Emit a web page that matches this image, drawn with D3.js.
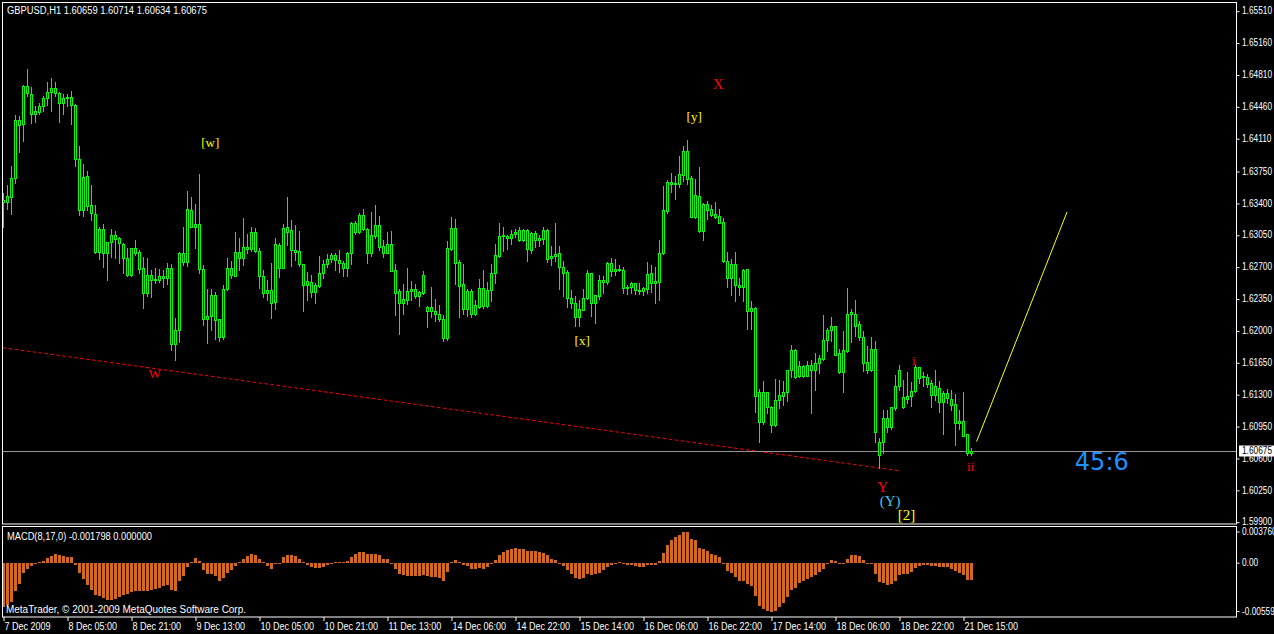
<!DOCTYPE html>
<html><head><meta charset="utf-8">
<script src="https://cdn.jsdelivr.net/npm/d3@7"></script>
<style>html,body{margin:0;padding:0;background:#000;overflow:hidden}svg{display:block}</style>
</head><body>
<svg id="c" width="1274" height="634"></svg>
<script>
// ---------------- DATA ----------------
const opens=[1.6341,1.6341,1.6347,1.6367,1.6431,1.6427,1.6468,1.6460,1.6438,1.6440,
1.6446,1.6455,1.6462,1.6466,1.6461,1.6450,1.6455,1.6456,1.6448,1.6388,
1.6332,1.6370,1.6338,1.6328,1.6286,1.6311,1.6285,1.6297,1.6305,1.6301,
1.6295,1.6280,1.6261,1.6290,1.6286,1.6268,1.6241,1.6261,1.6255,1.6255,
1.6260,1.6258,1.6269,1.6185,1.6201,1.6285,1.6275,1.6332,1.6313,1.6317,
1.6267,1.6213,1.6216,1.6239,1.6212,1.6193,1.6245,1.6269,1.6260,1.6286,
1.6280,1.6292,1.6289,1.6308,1.6287,1.6260,1.6241,1.6244,1.6231,1.6294,
1.6269,1.6308,1.6310,1.6288,1.6287,1.6273,1.6250,1.6253,1.6242,1.6249,
1.6263,1.6273,1.6278,1.6283,1.6277,1.6274,1.6269,1.6285,1.6318,1.6308,
1.6327,1.6311,1.6285,1.6304,1.6316,1.6293,1.6285,1.6295,1.6266,1.6243,
1.6230,1.6233,1.6243,1.6245,1.6238,1.6241,1.6226,1.6221,1.6221,1.6218,
1.6213,1.6192,1.6289,1.6312,1.6275,1.6251,1.6223,1.6243,1.6218,1.6226,
1.6247,1.6227,1.6244,1.6263,1.6282,1.6304,1.6304,1.6301,1.6306,1.6310,
1.6299,1.6310,1.6288,1.6307,1.6299,1.6300,1.6310,1.6280,1.6282,1.6285,
1.6270,1.6264,1.6236,1.6230,1.6215,1.6222,1.6236,1.6263,1.6230,1.6238,
1.6255,1.6253,1.6274,1.6265,1.6267,1.6266,1.6247,1.6248,1.6252,1.6244,
1.6243,1.6245,1.6263,1.6252,1.6253,1.6285,1.6331,1.6363,1.6361,1.6361,
1.6371,1.6397,1.6367,1.6324,1.6348,1.6309,1.6339,1.6333,1.6328,1.6326,
1.6319,1.6276,1.6257,1.6273,1.6250,1.6248,1.6267,1.6221,1.6225,1.6132,
1.6099,1.6132,1.6116,1.6096,1.6124,1.6128,1.6132,1.6157,1.6179,1.6150,
1.6161,1.6150,1.6162,1.6157,1.6164,1.6169,1.6189,1.6201,1.6205,1.6175,
1.6154,1.6177,1.6218,1.6218,1.6207,1.6193,1.6165,1.6157,1.6180,1.6078,
1.6078,1.6104,1.6094,1.6115,1.6139,1.6127,1.6125,1.6128,1.6133,1.6160,
1.6149,1.6149,1.6142,1.6129,1.6137,1.6121,1.6131,1.6125,1.6119,1.6098,
1.6101,1.6086,1.60659];
const highs=[1.6351,1.6360,1.6381,1.6437,1.6435,1.6469,1.6487,1.6467,1.6446,1.6450,
1.6457,1.6473,1.6477,1.6473,1.6462,1.6460,1.6460,1.6463,1.6449,1.6402,
1.6383,1.6375,1.6360,1.6338,1.6313,1.6317,1.6297,1.6311,1.6309,1.6303,
1.6296,1.6291,1.6290,1.6299,1.6288,1.6281,1.6279,1.6266,1.6268,1.6267,
1.6266,1.6274,1.6273,1.6214,1.6286,1.6314,1.6353,1.6346,1.6339,1.6372,
1.6272,1.6246,1.6246,1.6242,1.6213,1.6250,1.6279,1.6276,1.6308,1.6301,
1.6323,1.6306,1.6313,1.6312,1.6291,1.6266,1.6255,1.6274,1.6302,1.6296,
1.6317,1.6346,1.6321,1.6316,1.6309,1.6273,1.6264,1.6261,1.6252,1.6282,
1.6277,1.6284,1.6285,1.6285,1.6288,1.6276,1.6286,1.6319,1.6320,1.6329,
1.6333,1.6312,1.6330,1.6338,1.6326,1.6299,1.6308,1.6309,1.6273,1.6246,
1.6251,1.6269,1.6254,1.6251,1.6243,1.6265,1.6227,1.6248,1.6234,1.6228,
1.6217,1.6298,1.6325,1.6322,1.6277,1.6273,1.6246,1.6246,1.6233,1.6256,
1.6266,1.6253,1.6273,1.6295,1.6318,1.6313,1.6305,1.6310,1.6311,1.6313,
1.6311,1.6311,1.6308,1.6309,1.6305,1.6313,1.6311,1.6293,1.6318,1.6293,
1.6276,1.6266,1.6244,1.6238,1.6233,1.6246,1.6266,1.6263,1.6239,1.6261,
1.6260,1.6275,1.6280,1.6278,1.6272,1.6270,1.6250,1.6253,1.6252,1.6252,
1.6248,1.6275,1.6272,1.6270,1.6299,1.6359,1.6365,1.6373,1.6369,1.6391,
1.6402,1.6409,1.6369,1.6366,1.6379,1.6340,1.6342,1.6338,1.6341,1.6333,
1.6323,1.6286,1.6278,1.6286,1.6257,1.6267,1.6267,1.6232,1.6226,1.6136,
1.6145,1.6132,1.6117,1.6147,1.6146,1.6144,1.6157,1.6184,1.6180,1.6166,
1.6162,1.6166,1.6167,1.6175,1.6173,1.6217,1.6203,1.6215,1.6205,1.6180,
1.6199,1.6247,1.6223,1.6233,1.6210,1.6199,1.6183,1.6193,1.6188,1.6082,
1.6113,1.6113,1.6116,1.6151,1.6162,1.6146,1.6154,1.6143,1.6162,1.6160,
1.6154,1.6152,1.6146,1.6157,1.6144,1.6133,1.6136,1.6135,1.6130,1.6113,
1.6132,1.6086,1.60714];
const lows=[1.6313,1.6333,1.6328,1.6362,1.6396,1.6408,1.6457,1.6428,1.6429,1.6438,
1.6441,1.6448,1.6441,1.6457,1.6429,1.6438,1.6446,1.6427,1.6380,1.6327,
1.6326,1.6332,1.6321,1.6285,1.6278,1.6270,1.6255,1.6281,1.6280,1.6274,
1.6263,1.6260,1.6260,1.6283,1.6263,1.6225,1.6238,1.6237,1.6252,1.6253,
1.6248,1.6251,1.6179,1.6167,1.6187,1.6272,1.6271,1.6313,1.6291,1.6263,
1.6206,1.6186,1.6200,1.6191,1.6188,1.6191,1.6244,1.6257,1.6260,1.6266,
1.6272,1.6285,1.6287,1.6286,1.6247,1.6237,1.6233,1.6214,1.6224,1.6259,
1.6269,1.6294,1.6271,1.6277,1.6271,1.6221,1.6233,1.6237,1.6230,1.6248,
1.6257,1.6270,1.6275,1.6266,1.6264,1.6260,1.6260,1.6273,1.6306,1.6307,
1.6310,1.6274,1.6282,1.6301,1.6288,1.6281,1.6285,1.6265,1.6217,1.6196,
1.6218,1.6229,1.6233,1.6236,1.6227,1.6240,1.6204,1.6215,1.6210,1.6210,
1.6188,1.6189,1.6288,1.6251,1.6215,1.6218,1.6216,1.6215,1.6217,1.6225,
1.6225,1.6226,1.6232,1.6252,1.6281,1.6287,1.6289,1.6295,1.6303,1.6298,
1.6298,1.6276,1.6285,1.6292,1.6293,1.6295,1.6275,1.6272,1.6276,1.6245,
1.6238,1.6226,1.6225,1.6205,1.6205,1.6222,1.6234,1.6216,1.6208,1.6234,
1.6241,1.6251,1.6260,1.6261,1.6265,1.6241,1.6240,1.6241,1.6240,1.6240,
1.6239,1.6241,1.6242,1.6230,1.6233,1.6284,1.6329,1.6352,1.6344,1.6357,
1.6364,1.6361,1.6324,1.6323,1.6308,1.6299,1.6322,1.6326,1.6323,1.6318,
1.6275,1.6248,1.6239,1.6232,1.6239,1.6232,1.6202,1.6202,1.6110,1.6078,
1.6097,1.6109,1.6088,1.6095,1.6115,1.6118,1.6123,1.6149,1.6148,1.6149,
1.6149,1.6150,1.6109,1.6135,1.6153,1.6168,1.6177,1.6188,1.6173,1.6153,
1.6132,1.6176,1.6187,1.6194,1.6190,1.6155,1.6153,1.6155,1.6077,1.6049,
1.6065,1.6089,1.6092,1.6113,1.6135,1.6115,1.6120,1.6117,1.6132,1.6142,
1.6139,1.6138,1.6116,1.6124,1.6110,1.6086,1.6120,1.6113,1.6074,1.6092,
1.6084,1.6063,1.60634];
const closes=[1.6343,1.6348,1.6367,1.6431,1.6426,1.6468,1.6461,1.6438,1.6441,1.6446,
1.6455,1.6462,1.6466,1.6461,1.6450,1.6455,1.6456,1.6448,1.6388,1.6332,
1.6368,1.6337,1.6329,1.6286,1.6311,1.6285,1.6297,1.6305,1.6300,1.6296,
1.6280,1.6261,1.6290,1.6285,1.6267,1.6241,1.6261,1.6255,1.6256,1.6260,
1.6258,1.6269,1.6185,1.6201,1.6285,1.6275,1.6333,1.6313,1.6317,1.6267,
1.6213,1.6216,1.6239,1.6211,1.6193,1.6245,1.6269,1.6261,1.6286,1.6280,
1.6292,1.6289,1.6308,1.6287,1.6260,1.6241,1.6244,1.6230,1.6295,1.6269,
1.6312,1.6313,1.6288,1.6286,1.6273,1.6250,1.6254,1.6242,1.6250,1.6263,
1.6273,1.6278,1.6283,1.6277,1.6274,1.6269,1.6285,1.6318,1.6308,1.6327,
1.6311,1.6285,1.6305,1.6316,1.6292,1.6285,1.6295,1.6265,1.6241,1.6230,
1.6234,1.6243,1.6245,1.6238,1.6242,1.6261,1.6221,1.6226,1.6218,1.6213,
1.6192,1.6290,1.6312,1.6274,1.6249,1.6223,1.6243,1.6218,1.6228,1.6247,
1.6227,1.6244,1.6263,1.6283,1.6304,1.6305,1.6301,1.6306,1.6308,1.6299,
1.6310,1.6289,1.6307,1.6299,1.6301,1.6310,1.6278,1.6282,1.6284,1.6270,
1.6263,1.6236,1.6230,1.6215,1.6223,1.6236,1.6263,1.6230,1.6239,1.6255,
1.6253,1.6274,1.6265,1.6267,1.6266,1.6247,1.6248,1.6252,1.6244,1.6243,
1.6247,1.6262,1.6252,1.6254,1.6285,1.6332,1.6363,1.6361,1.6362,1.6372,
1.6397,1.6366,1.6325,1.6349,1.6309,1.6339,1.6332,1.6327,1.6325,1.6318,
1.6276,1.6257,1.6273,1.6250,1.6248,1.6266,1.6221,1.6225,1.6128,1.6099,
1.6132,1.6116,1.6096,1.6124,1.6129,1.6132,1.6157,1.6179,1.6149,1.6161,
1.6150,1.6162,1.6157,1.6164,1.6170,1.6189,1.6201,1.6205,1.6173,1.6154,
1.6178,1.6218,1.6220,1.6205,1.6193,1.6164,1.6157,1.6180,1.6089,1.6063,
1.6104,1.6094,1.6116,1.6139,1.6157,1.6116,1.6128,1.6134,1.6160,1.6148,
1.6150,1.6141,1.6129,1.6139,1.6121,1.6131,1.6126,1.6118,1.6098,1.6101,
1.6084,1.6065,1.60675];
const macdValues=[-0.00455,-0.00431,-0.00407,-0.00292,-0.00216,-0.00102,-0.00061,-0.00033,-0.00009,0.00009,
0.00022,0.00050,0.00078,0.00092,0.00085,0.00071,0.00067,0.00064,-0.00019,-0.00102,
-0.00164,-0.00223,-0.00275,-0.00327,-0.00344,-0.00362,-0.00379,-0.00379,-0.00372,-0.00351,
-0.00327,-0.00317,-0.00303,-0.00292,-0.00292,-0.00285,-0.00285,-0.00275,-0.00265,-0.00258,
-0.00240,-0.00230,-0.00275,-0.00285,-0.00189,-0.00137,-0.00043,0.00016,0.00057,0.00022,
-0.00067,-0.00112,-0.00112,-0.00137,-0.00189,-0.00154,-0.00102,-0.00074,-0.00033,0.00009,
0.00043,0.00071,0.00099,0.00085,0.00043,0.00002,-0.00026,-0.00057,-0.00009,-0.00002,
0.00061,0.00081,0.00081,0.00071,0.00043,0.00009,-0.00022,-0.00040,-0.00054,-0.00054,
-0.00040,-0.00019,-0.00005,0.00012,0.00012,0.00012,0.00022,0.00064,0.00095,0.00119,
0.00119,0.00095,0.00092,0.00099,0.00081,0.00047,0.00043,-0.00005,-0.00061,-0.00109,
-0.00126,-0.00137,-0.00137,-0.00137,-0.00137,-0.00119,-0.00130,-0.00144,-0.00147,-0.00154,
-0.00182,-0.00092,0.00012,0.00029,0.00016,-0.00022,-0.00033,-0.00061,-0.00061,-0.00054,
-0.00057,-0.00037,-0.00002,0.00036,0.00088,0.00119,0.00140,0.00151,0.00157,0.00151,
0.00147,0.00130,0.00130,0.00123,0.00112,0.00106,0.00081,0.00047,0.00036,-0.00002,
-0.00026,-0.00074,-0.00109,-0.00154,-0.00164,-0.00154,-0.00112,-0.00126,-0.00112,-0.00102,
-0.00074,-0.00043,-0.00019,-0.00009,0.00012,-0.00009,-0.00019,-0.00019,-0.00033,-0.00043,
-0.00043,-0.00022,-0.00019,-0.00022,0.00022,0.00102,0.00192,0.00244,0.00268,0.00292,
0.00327,0.00320,0.00254,0.00237,0.00161,0.00151,0.00130,0.00095,0.00081,0.00061,
-0.00009,-0.00085,-0.00102,-0.00147,-0.00182,-0.00189,-0.00216,-0.00240,-0.00344,-0.00448,
-0.00476,-0.00493,-0.00510,-0.00493,-0.00458,-0.00413,-0.00355,-0.00275,-0.00258,-0.00206,
-0.00182,-0.00161,-0.00144,-0.00119,-0.00092,-0.00057,-0.00002,0.00036,0.00022,-0.00009,
-0.00009,0.00043,0.00081,0.00088,0.00078,0.00029,-0.00009,-0.00009,-0.00109,-0.00192,
-0.00206,-0.00230,-0.00216,-0.00182,-0.00126,-0.00112,-0.00109,-0.00095,-0.00054,-0.00033,
-0.00022,-0.00019,-0.00029,-0.00033,-0.00040,-0.00043,-0.00043,-0.00057,-0.00085,-0.00102,
-0.00126,-0.00171,-0.001798];

const priceTicks=[1.6551,1.6516,1.6481,1.6446,1.6411,1.6375,1.6340,1.6305,1.6270,1.6235,1.6200,1.6165,1.6130,1.6095,1.6060,1.6025,1.5990];
const priceDomain=[1.5990,1.6551];
const macdDomain=[-0.00559,0.00376];
const macdTicks=[0.00376,0,-0.00559];
const macdTickLabels=["0.003760","0.00","-0.005590"];
const timeTickIndex=[0,16,32,48,64,80,96,112,128,144,160,176,192,208,224,240];
const timeTickLabels=["7 Dec 2009","8 Dec 05:00","8 Dec 21:00","9 Dec 13:00","10 Dec 05:00","10 Dec 21:00","11 Dec 13:00","14 Dec 06:00","14 Dec 22:00","15 Dec 14:00","16 Dec 06:00","16 Dec 22:00","17 Dec 14:00","18 Dec 06:00","18 Dec 22:00","21 Dec 15:00"];
const waveText=["[w]","[y]","X","W","[x]","i","ii","Y","(Y)","[2]"];
const waveIndex=[51.8,172.8,178.8,37.9,144.8,227.7,241.9,219.9,221.8,225.9];
const wavePrice=[1.64019,1.64294,1.64650,1.61478,1.61840,1.61621,1.60457,1.60226,1.60073,1.59919];
const waveKind=["y","y","R","r","y","r","r","R","c","Y"];
const redTrendIndex=[0,224], redTrendPrice=[1.6181,1.6046];
const yellowTrendIndex=[243.4,266], yellowTrendPrice=[1.6078,1.6330];
const objText="45:6", objIndex=274.7, objPrice=1.60468;
const symbolTitle="GBPUSD,H1  1.60659 1.60714 1.60634 1.60675";
const macdTitle="MACD(8,17,0) -0.001798 0.000000";
const copyright="MetaTrader, \u00A9 2001-2009 MetaQuotes Software Corp.";

// ---------------- DRAW ----------------
const svg=d3.select("#c");
const W=1274,H=634;
const N=closes.length;
const FONT="'Liberation Sans', Arial, sans-serif";
const x=d3.scaleLinear().domain([0,N-1]).range([3,3+4*(N-1)]);
const y=d3.scaleLinear().domain(priceDomain).range([521.7,10.7]);
const ym=d3.scaleLinear().domain(macdDomain).range([617,527]);

svg.append("rect").attr("width",W).attr("height",H).attr("fill","#000");

const defs=svg.append("defs");
defs.append("clipPath").attr("id","mainClip").append("rect").attr("x",3).attr("y",3).attr("width",1233).attr("height",521);
defs.append("clipPath").attr("id","macdClip").append("rect").attr("x",3).attr("y",527).attr("width",1233).attr("height",90);

const main=svg.append("g").attr("clip-path","url(#mainClip)");

// red dashed trend line
main.append("line")
  .attr("x1",x(redTrendIndex[0])).attr("y1",y(redTrendPrice[0]))
  .attr("x2",x(redTrendIndex[1])).attr("y2",y(redTrendPrice[1]))
  .attr("stroke","#ff0000").attr("stroke-width",1).attr("stroke-dasharray","3.5,2.5");

// current price line
const lastY=Math.round(y(closes[N-1]))+0.5;
main.append("line").attr("x1",2).attr("x2",1237).attr("y1",lastY).attr("y2",lastY)
  .attr("stroke","#969696").attr("stroke-width",1);

// candles
const idx=d3.range(N);
const cg=main.append("g");
idx.forEach(i=>{
  const cx=Math.round(x(i));
  const o=opens[i],c=closes[i],h=highs[i],l=lows[i];
  const yh=Math.round(y(h)), yl=Math.round(y(l));
  const top=Math.round(y(Math.max(o,c))), bot=Math.round(y(Math.min(o,c)));
  cg.append("rect").attr("x",cx).attr("y",yh).attr("width",1).attr("height",Math.max(1,yl-yh+1)).attr("fill","#00ff00");
  cg.append("rect").attr("x",cx-1).attr("y",top).attr("width",3).attr("height",Math.max(1,bot-top+1)).attr("fill","#00ff00");
  if(bot-top>=2){
    cg.append("rect").attr("x",cx).attr("y",top+1).attr("width",1).attr("height",bot-top-1).attr("fill","#000");
  }
});

// wave labels
const kindStyle={
  y:{c:"#ffff00",s:13},Y:{c:"#ffff00",s:15},R:{c:"#ff0000",s:15},r:{c:"#ff0000",s:13},c:{c:"#3fc6ee",s:15}
};
const wl=main.append("g").attr("font-family","'Liberation Serif','Times New Roman',serif").attr("text-anchor","middle");
waveText.forEach((t,k)=>{
  const st=kindStyle[waveKind[k]];
  wl.append("text").attr("x",x(waveIndex[k])).attr("y",y(wavePrice[k]))
    .attr("fill",st.c).attr("font-size",st.s).text(t);
});

// yellow line
main.append("line")
  .attr("x1",x(yellowTrendIndex[0])).attr("y1",y(yellowTrendPrice[0]))
  .attr("x2",x(yellowTrendIndex[1])).attr("y2",y(yellowTrendPrice[1]))
  .attr("stroke","#ffff00").attr("stroke-width",1);

// object text
main.append("text").attr("x",x(objIndex)).attr("y",y(objPrice)).attr("text-anchor","middle")
  .attr("font-family","'DejaVu Sans',sans-serif").attr("font-size",24).attr("fill","#1e90ff").text(objText);

// MACD histogram
const mg=svg.append("g").attr("clip-path","url(#macdClip)");
const z=Math.round(ym(0));
idx.forEach(i=>{
  const v=macdValues[i];
  const cx=Math.round(x(i));
  const yv=Math.round(ym(v));
  let yy,hh;
  if(v>=0){yy=yv;hh=z-yv;}else{yy=z;hh=yv-z;}
  if(hh<1 && v!==0){hh=1; if(v>0) yy=z-1;}
  mg.append("rect").attr("x",cx-1).attr("y",yy).attr("width",3).attr("height",hh).attr("fill","#d2691e");
});

// frames
svg.append("rect").attr("x",2.5).attr("y",2.5).attr("width",1234).attr("height",521.5)
  .attr("fill","none").attr("stroke","#fff").attr("stroke-width",1);
svg.append("rect").attr("x",2.5).attr("y",526.5).attr("width",1234).attr("height",90.5)
  .attr("fill","none").attr("stroke","#fff").attr("stroke-width",1);

function squeeze(sel,k){
  sel.each(function(){
    const w=this.getComputedTextLength();
    d3.select(this).attr("textLength",w*k).attr("lengthAdjust","spacingAndGlyphs");
  });
}

// price axis
const pa=svg.append("g").attr("transform","translate(1236.5,0)")
  .call(d3.axisRight(y).tickValues(priceTicks).tickSize(3).tickPadding(2.5).tickFormat(d3.format(".5f")));
pa.select(".domain").remove();
pa.attr("color","#fff").attr("font-family",FONT).attr("font-size",10);
pa.selectAll(".tick line").attr("transform","translate(0,0.5)");
squeeze(pa.selectAll("text"),0.83);

// current price box
const boxY=Math.round(y(closes[N-1]));
svg.append("rect").attr("x",1239).attr("y",boxY-5.5).attr("width",40).attr("height",11).attr("fill","#fff");
const cpt=svg.append("text").attr("x",1242).attr("y",boxY).attr("dy","0.34em")
  .attr("font-family",FONT).attr("font-size",10).attr("fill","#000").text(d3.format(".5f")(closes[N-1]));
squeeze(cpt,0.83);

// MACD axis
const ma=svg.append("g").attr("transform","translate(1236.5,0)")
  .call(d3.axisRight(ym).tickValues(macdTicks).tickSize(3).tickPadding(2.5).tickFormat((d,i)=>macdTickLabels[i]));
ma.select(".domain").remove();
ma.attr("color","#fff").attr("font-family",FONT).attr("font-size",10);
ma.selectAll(".tick").each(function(d){
  const t=d3.select(this);
  const off=d>0?5:(d<0?-5.5:0);
  t.attr("transform",`translate(0,${ym(d)+off})`);
});
squeeze(ma.selectAll("text"),0.83);

// time axis
const ta=svg.append("g").attr("transform","translate(0.5,617)")
  .call(d3.axisBottom(x).tickValues(timeTickIndex).tickSize(4).tickPadding(2).tickFormat((d,i)=>timeTickLabels[i]));
ta.select(".domain").remove();
ta.attr("color","#fff").attr("font-family",FONT).attr("font-size",10);
ta.selectAll("text").attr("text-anchor","start").attr("x",0.5);
squeeze(ta.selectAll("text"),0.9);

// title texts
const tt=svg.append("g").attr("font-family",FONT).attr("font-size",10).attr("fill","#fff");
tt.append("text").attr("x",7).attr("y",14).attr("textLength",200).attr("lengthAdjust","spacingAndGlyphs").text(symbolTitle);
tt.append("text").attr("x",7).attr("y",540).attr("textLength",145).attr("lengthAdjust","spacingAndGlyphs").text(macdTitle);
tt.append("text").attr("x",6).attr("y",613).attr("textLength",240).attr("lengthAdjust","spacingAndGlyphs").text(copyright);
</script>
</body></html>
